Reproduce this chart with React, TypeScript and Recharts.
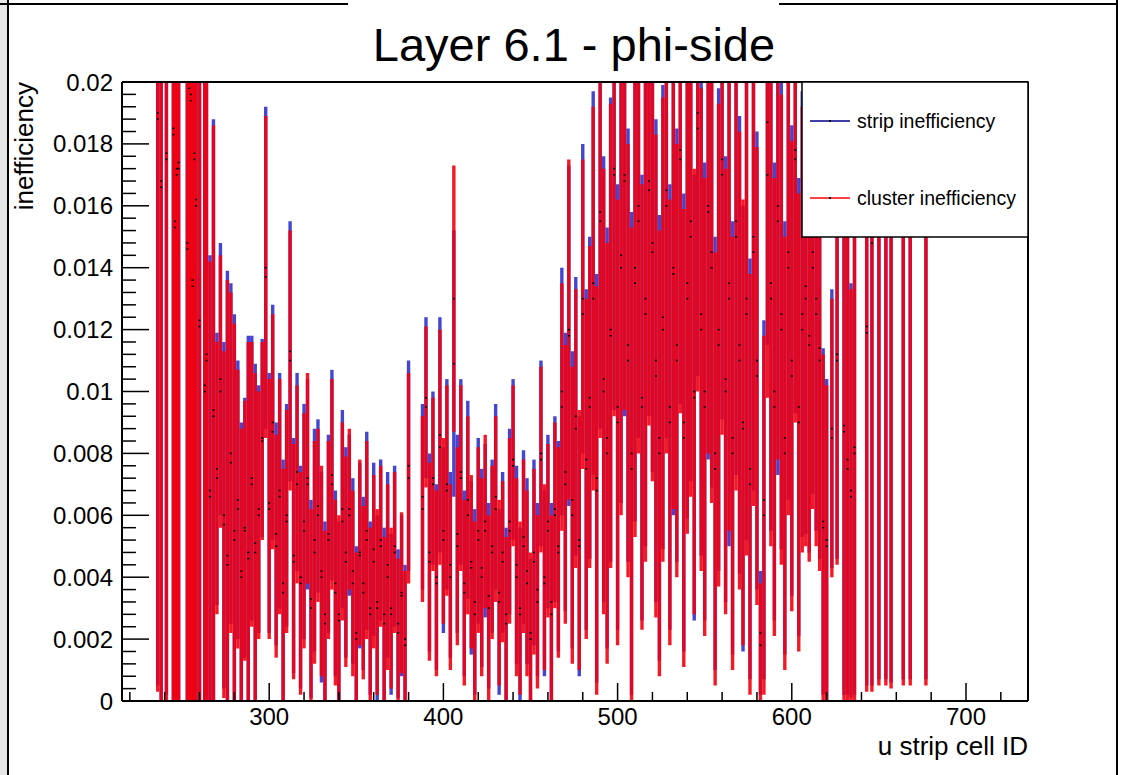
import React from 'react';
import { ComposedChart, Scatter, ErrorBar, XAxis, YAxis, ReferenceLine } from 'recharts';

// strip numbers (every second strip where the plot is dense)
const cellIds = [
  236, 238, 241, 245, 246, 247, 248, 253, 254, 255, 256, 257, 258, 260, 263, 264,
  266, 268, 270, 272, 274, 276, 278, 280, 282, 284, 286, 288, 290, 292, 294, 296, 298, 300,
  302, 304, 306, 308, 310, 312, 314, 316, 318, 320, 322, 324, 326, 328, 330, 332, 334, 336, 338, 340,
  342, 344, 346, 348, 350, 352, 354, 356, 358, 360, 362, 364, 366, 368, 370, 372, 374, 376, 378, 380,
  388, 390, 392, 394, 396, 398, 400, 402, 404, 406, 408, 410, 412, 414, 416, 418, 420,
  422, 424, 426, 428, 430, 432, 434, 436, 438, 440, 442, 444, 446, 448, 450, 452, 454, 456, 458, 460, 462, 464, 466,
  468, 470, 472, 474, 476, 478, 480, 482, 484, 486, 488, 490, 492, 494, 496, 498, 500, 502, 504, 506, 508, 510, 512, 514, 516, 518, 520, 522, 524,
  526, 528, 530, 532, 534, 536, 538, 540, 542, 544, 546, 548, 550, 552, 554, 556, 558, 560, 562, 564,
  566, 568, 570, 572, 574, 576, 578, 580, 582, 584, 586, 588, 590, 592, 594, 596, 598, 600, 602, 604,
  606, 608, 610, 612, 614, 616,
  618, 620, 623, 626, 630, 632, 634, 636, 643, 646, 650, 654, 657, 664, 668, 677,
];

// cluster inefficiency, in units of 1e-4
const clusterIneff = [
  188, 166, 175, 183, 153, 170, 172, 146, 198, 194, 134, 175, 160, 121, 100, 110,
  66, 92, 72, 100, 57, 44, 77, 52, 62, 40, 55, 46, 70, 48, 60, 84, 137, 62,
  87, 50, 66, 35, 58, 110, 45, 70, 38, 55, 72, 30, 48, 60, 42, 25, 52, 70, 35, 28,
  58, 45, 62, 38, 20, 48, 35, 52, 28, 45, 32, 50, 25, 40, 30, 48, 22, 35, 18, 72,
  62, 95, 45, 70, 38, 82, 55, 68, 40, 130, 50, 72, 35, 60, 45, 28, 52,
  40, 58, 30, 48, 62, 35, 45, 25, 55, 76, 40, 30, 50, 38, 22, 45, 32, 78, 40, 55, 28, 60, 48,
  95, 70, 120, 60, 88, 52, 125, 75, 95, 130, 68, 155, 100, 80, 118, 170, 90, 140, 170, 110, 75, 135, 155, 95, 125, 165, 145, 105, 80,
  120, 160, 90, 140, 110, 175, 85, 130, 150, 100, 185, 120, 95, 160, 140, 75, 115, 170, 100, 135,
  80, 150, 110, 90, 125, 70, 145, 105, 18, 60, 170, 130, 95, 160, 120, 80, 140, 105, 175, 90,
  120, 130, 115, 140, 125, 110,
  56, 50, 85, 110, 87, 75, 66, 80, 119, 148, 210, 210, 200, 210, 205, 215,
];

// strip inefficiency, in units of 1e-4
const stripIneff = [
  190, 168, 177, 185, 155, 172, 174, 148, 200, 196, 136, 177, 162, 123, 102, 112,
  68, 94, 75, 104, 60, 47, 80, 55, 65, 42, 56, 48, 72, 51, 62, 85, 140, 64,
  90, 54, 68, 38, 60, 113, 47, 74, 40, 58, 70, 33, 52, 63, 40, 28, 54, 73, 38, 26,
  62, 48, 60, 42, 22, 47, 38, 55, 30, 49, 30, 52, 28, 44, 28, 50, 25, 34, 20, 76,
  66, 98, 48, 72, 40, 86, 52, 70, 44, 109, 54, 74, 38, 65, 43, 32, 55,
  43, 55, 34, 50, 66, 32, 48, 28, 58, 78, 44, 28, 53, 42, 20, 48, 36, 80, 38, 58, 32, 62, 50,
  100, 74, 118, 65, 92, 50, 130, 78, 98, 135, 72, 158, 104, 85, 120, 172, 95, 144, 168, 115, 80, 140, 160, 98, 130, 168, 148, 110, 85,
  124, 165, 95, 138, 115, 178, 90, 135, 155, 98, 190, 125, 100, 158, 145, 80, 120, 175, 104, 130,
  85, 155, 115, 88, 130, 75, 150, 110, 22, 65, 187, 135, 100, 155, 125, 85, 145, 110, 178, 95,
  125, 134, 118, 145, 130, 114,
  58, 52, 88, 112, 89, 78, 68, 82, 121, 150, 212, 212, 202, 212, 207, 217,
];

// statistical error of both, in units of 1e-4
const ineffError = [
  185, 170, 175, 185, 160, 175, 180, 150, 200, 195, 140, 180, 165, 125, 105, 115,
  76, 94, 44, 44, 56, 92, 55, 70, 45, 48, 42, 70, 46, 58, 40, 32, 52, 42,
  38, 36, 38, 40, 36, 42, 38, 32, 36, 38, 34, 32, 36, 28, 34, 30, 32, 34, 30, 32,
  32, 34, 26, 30, 28, 30, 28, 32, 28, 28, 30, 26, 28, 30, 26, 26, 24, 26, 24, 34,
  30, 26, 32, 28, 30, 38, 30, 34, 30, 43, 32, 30, 30, 32, 28, 30, 30,
  32, 28, 30, 28, 30, 30, 26, 28, 30, 26, 32, 28, 28, 30, 26, 30, 28, 30, 30, 28, 32, 30, 34,
  40, 45, 55, 48, 45, 42, 50, 55, 52, 62, 66, 70, 72, 68, 75, 78, 72, 80, 76, 70, 78, 82, 75, 72, 80, 76, 74, 78, 72,
  75, 80, 72, 78, 70, 82, 74, 76, 84, 72, 85, 78, 74, 80, 76, 70, 78, 84, 72, 80,
  70, 82, 74, 72, 78, 68, 82, 74, 20, 58, 72, 80, 74, 82, 76, 70, 80, 76, 85, 74,
  72, 80, 70, 78, 75, 68,
  56, 52, 45, 66, 87, 76, 67, 80, 116, 145, 205, 205, 196, 205, 200, 210,
];

const xTicks = [300, 400, 500, 600, 700];
const yTicks = [0, 0.002, 0.004, 0.006, 0.008, 0.01, 0.012, 0.014, 0.016, 0.018, 0.02];
const xMinorTicks = [220, 240, 260, 280, 320, 340, 360, 380, 420, 440, 460, 480, 520, 540, 560, 580, 620, 640, 660, 680, 720];
const yMinorTicks = yTicks.slice(0, -1).flatMap(t => [1, 2, 3, 4].map(k => +(t + k * 0.0004).toFixed(4)));

const X_MIN = 215.5;
const X_MAX = 735.6;
const Y_MAX = 0.02;

const rows = cellIds.map((id, i) => ({
  id,
  cluster: clusterIneff[i] * 1e-4,
  strip: stripIneff[i] * 1e-4,
  err: ineffError[i] * 1e-4,
}));

const FONT = '"Liberation Sans", Arial, Helvetica, sans-serif';

const Marker = (p: any) => (
  <rect x={p.cx - 1} y={p.cy - 0.8} width={2} height={1.6} fill="#000" />
);

const fmt = (v: number) => String(+v.toFixed(3));

// the error bars are not clipped by recharts, so clip the scatter layers to the frame
const clipCss = `
.recharts-scatter, .recharts-errorBars, .recharts-errorBar { clip-path: url(#plotFrameClip); }
`;

const App: React.FC = () => {
  return (
    <div style={{ position: 'absolute', left: 0, top: 0, width: 1132, height: 775, background: '#fff', fontFamily: FONT }}>
      <style>{clipCss}</style>
      <svg width={0} height={0} style={{ position: 'absolute' }}>
        <defs>
          <clipPath id="plotFrameClip" clipPathUnits="userSpaceOnUse">
            <rect x={122} y={82} width={906} height={619} />
          </clipPath>
        </defs>
      </svg>
      <ComposedChart
        width={1132}
        height={775}
        margin={{ top: 82, right: 104, bottom: 34, left: 42 }}
      >
        <XAxis
          dataKey="id"
          type="number"
          domain={[X_MIN, X_MAX]}
          allowDataOverflow
          ticks={xTicks}
          tickLine={false}
          tickSize={0}
          tickMargin={7}
          height={40}
          axisLine={{ stroke: '#000', strokeWidth: 2 }}
          tick={{ fill: '#000', fontSize: 24, fontFamily: FONT }}
        />
        <YAxis
          type="number"
          domain={[0, Y_MAX]}
          allowDataOverflow
          ticks={yTicks}
          tickFormatter={fmt}
          tickLine={false}
          tickSize={0}
          tickMargin={9}
          width={80}
          axisLine={{ stroke: '#000', strokeWidth: 2 }}
          tick={{ fill: '#000', fontSize: 24, fontFamily: FONT }}
        />
        <Scatter data={rows} dataKey="strip" shape={Marker} isAnimationActive={false}>
          <ErrorBar dataKey="err" direction="y" width={0} stroke="#2424c8" strokeOpacity={0.85} strokeWidth={3.4} isAnimationActive={false} />
        </Scatter>
        <Scatter data={rows} dataKey="cluster" shape={Marker} isAnimationActive={false}>
          <ErrorBar dataKey="err" direction="y" width={0} stroke="#f20010" strokeOpacity={0.9} strokeWidth={3.4} isAnimationActive={false} />
        </Scatter>
        {yTicks.map(t => (
          <ReferenceLine key={'ym' + t} segment={[{ x: X_MIN, y: t }, { x: X_MIN + 15.5, y: t }]} stroke="#000" strokeWidth={1.5} />
        ))}
        {yMinorTicks.map(t => (
          <ReferenceLine key={'yn' + t} segment={[{ x: X_MIN, y: t }, { x: X_MIN + 8, y: t }]} stroke="#000" strokeWidth={1.5} />
        ))}
        {xTicks.map(t => (
          <ReferenceLine key={'xm' + t} segment={[{ x: t, y: 0 }, { x: t, y: 0.00058 }]} stroke="#000" strokeWidth={1.5} />
        ))}
        {xMinorTicks.map(t => (
          <ReferenceLine key={'xn' + t} segment={[{ x: t, y: 0 }, { x: t, y: 0.00029 }]} stroke="#000" strokeWidth={1.5} />
        ))}
        <ReferenceLine y={Y_MAX} stroke="#000" strokeWidth={2} />
        <ReferenceLine x={X_MAX} stroke="#000" strokeWidth={2} />
      </ComposedChart>

      <svg width={1132} height={775} style={{ position: 'absolute', left: 0, top: 0, pointerEvents: 'none' }}>
        {/* canvas border */}
        <rect x={0} y={0} width={7} height={775} fill="#e6e6e6" />
        <line x1={8} y1={0} x2={8} y2={775} stroke="#000" strokeWidth={2} />
        <line x1={0} y1={4} x2={348} y2={4} stroke="#000" strokeWidth={2} />
        <line x1={779} y1={4} x2={1118} y2={4} stroke="#000" strokeWidth={2} />
        <line x1={1117} y1={0} x2={1117} y2={775} stroke="#000" strokeWidth={2} />

        <text x={574} y={61} textAnchor="middle" fontSize={47} fontFamily={FONT} fill="#000">
          Layer 6.1 - phi-side
        </text>
        <text
          transform="translate(33,82) rotate(-90)"
          textAnchor="end"
          fontSize={26}
          fontFamily={FONT}
          fill="#000"
        >
          inefficiency
        </text>
        <text x={1028} y={755} textAnchor="end" fontSize={26} fontFamily={FONT} fill="#000">
          u strip cell ID
        </text>

        {/* legend */}
        <rect x={802} y={82} width={226} height={155} fill="#fff" stroke="#000" strokeWidth={1.5} />
        <line x1={810} y1={121} x2={850} y2={121} stroke="#00008b" strokeWidth={1.5} />
        <rect x={829} y={120} width={2} height={2} fill="#000" />
        <text x={857} y={128} fontSize={19.5} fontFamily={FONT} fill="#000">strip inefficiency</text>
        <line x1={810} y1={198} x2={850} y2={198} stroke="#ff0000" strokeWidth={1.5} />
        <rect x={829} y={197} width={2} height={2} fill="#000" />
        <text x={857} y={205} fontSize={19.5} fontFamily={FONT} fill="#000">cluster inefficiency</text>
      </svg>
    </div>
  );
};

export default App;
